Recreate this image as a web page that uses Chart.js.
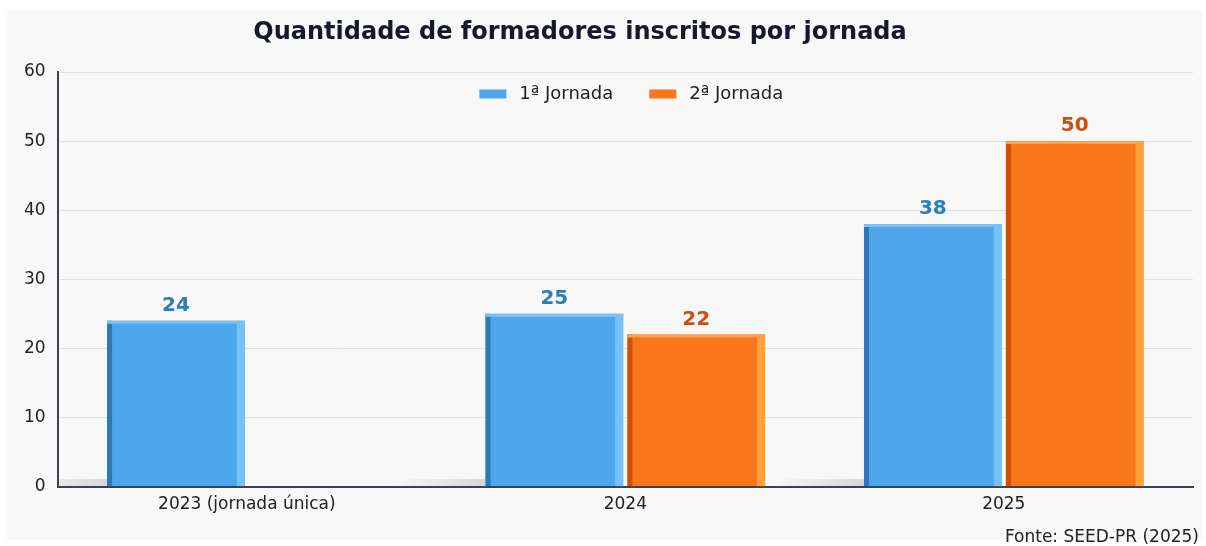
<!DOCTYPE html>
<html>
<head>
<meta charset="utf-8">
<script src="https://cdn.jsdelivr.net/npm/chart.js@4"></script>
<style>
  html, body { margin: 0; padding: 0; background: #ffffff; }
  #panel {
    position: absolute; left: 7px; top: 10px; width: 1196px; height: 530px;
    background: #f8f8f8;
  }
  #fonte {
    position: absolute; right: 4px; bottom: -6px;
    font-family: "DejaVu Sans", sans-serif; font-size: 17px; color: #222;
  }
</style>
</head>
<body>
<div id="panel">
  <canvas id="chart" width="1196" height="530"></canvas>
  <div id="fonte">Fonte: SEED-PR (2025)</div>
</div>
<script>
  "use strict";

  const chartTitle = "Quantidade de formadores inscritos por jornada";
  const categories = ["2023 (jornada única)", "2024", "2025"];
  const jornada1 = [24, 25, 38];
  const jornada2 = [null, 22, 50];
  const seriesNames = ["1ª Jornada", "2ª Jornada"];
  const yTicks = [0, 10, 20, 30, 40, 50, 60];

  const labelColors = ["#2a7fba", "#cc4f0c"];
  const edgeColors = [
    { left: "#2f78b8", right: "#74c2f8", top: "#7cc0f4" },
    { left: "#cf4f08", right: "#ffa23c", top: "#ffa050" },
  ];
  const tickFont = { family: "'DejaVu Sans', sans-serif", size: 17 };

  // bevelled edges, a soft floor shadow and the value above each bar
  const barDecor = {
    id: "barDecor",
    beforeDatasetsDraw(chart) {
      const ctx = chart.ctx;
      const area = chart.chartArea;
      ctx.save();
      ctx.beginPath();
      ctx.rect(area.left + 1, area.top, area.right - area.left, area.bottom - area.top);
      ctx.clip();
      chart.getDatasetMeta(0).data.forEach((bar) => {
        const left = bar.x - bar.width / 2;
        const g = ctx.createLinearGradient(left - 90, 0, left, 0);
        g.addColorStop(0, "rgba(0,0,0,0)");
        g.addColorStop(1, "rgba(0,0,0,0.13)");
        ctx.fillStyle = g;
        ctx.fillRect(left - 90, bar.base - 7, 90, 7);
      });
      ctx.restore();
    },
    afterDatasetsDraw(chart) {
      const ctx = chart.ctx;
      ctx.save();
      chart.data.datasets.forEach((ds, di) => {
        const meta = chart.getDatasetMeta(di);
        meta.data.forEach((bar, i) => {
          const v = ds.data[i];
          if (v === null || v === undefined) return;
          const left = bar.x - bar.width / 2;
          const right = bar.x + bar.width / 2;
          const h = bar.base - bar.y;
          ctx.fillStyle = edgeColors[di].left;
          ctx.fillRect(left, bar.y, 5, h);
          ctx.fillStyle = edgeColors[di].right;
          ctx.fillRect(right - 8, bar.y, 8, h);
          ctx.fillStyle = edgeColors[di].top;
          ctx.fillRect(left, bar.y, bar.width, 3);

          ctx.fillStyle = labelColors[di];
          ctx.font = "bold 20px 'DejaVu Sans', sans-serif";
          ctx.textAlign = "center";
          ctx.textBaseline = "alphabetic";
          ctx.fillText(String(v), bar.x, bar.y - 10);
        });
      });
      ctx.restore();
    },
  };

  // title sits a little left of centre, legend runs across the top of the plot
  const titleAndLegend = {
    id: "titleAndLegend",
    afterDraw(chart) {
      const ctx = chart.ctx;
      const area = chart.chartArea;
      ctx.save();
      ctx.fillStyle = "#15192a";
      ctx.font = "bold 24px 'DejaVu Sans', sans-serif";
      ctx.textAlign = "center";
      ctx.textBaseline = "middle";
      ctx.fillText(chartTitle, 573, 23);

      const items = Chart.defaults.plugins.legend.labels.generateLabels(chart);
      const boxW = 27, boxH = 9, gap = 13, spacing = 36;
      ctx.font = "18px 'DejaVu Sans', sans-serif";
      const widths = items.map((it) => boxW + gap + ctx.measureText(it.text).width);
      const total = widths.reduce((a, b) => a + b, 0) + spacing * (items.length - 1);
      let x = (area.left + area.right) / 2 - total / 2 + 6;
      const y = area.top + 22;
      items.forEach((it, i) => {
        ctx.fillStyle = it.fillStyle;
        ctx.fillRect(x, y - boxH / 2, boxW, boxH);
        ctx.fillStyle = "#222";
        ctx.textAlign = "left";
        ctx.fillText(it.text, x + boxW + gap, y);
        x += widths[i] + spacing;
      });
      ctx.restore();
    },
  };

  new Chart(document.getElementById("chart").getContext("2d"), {
    type: "bar",
    data: {
      labels: categories,
      datasets: [
        {
          label: seriesNames[0],
          data: jornada1,
          backgroundColor: "#4ea6ec",
          borderWidth: 0,
        },
        {
          label: seriesNames[1],
          data: jornada2,
          backgroundColor: "#f9761a",
          borderWidth: 0,
        },
      ],
    },
    options: {
      responsive: false,
      animation: false,
      categoryPercentage: 0.75,
      barPercentage: 0.97,
      layout: { padding: { left: 5, right: 10, top: 62, bottom: 17 } },
      plugins: {
        legend: { display: false },
        tooltip: { enabled: false },
      },
      scales: {
        x: {
          grid: { display: false, drawTicks: false },
          border: { color: "#3a4250", width: 2 },
          ticks: { color: "#222", padding: 8, font: tickFont },
        },
        y: {
          min: 0,
          max: 60,
          afterBuildTicks(axis) {
            axis.ticks = yTicks.map((v) => ({ value: v }));
          },
          grid: { color: "#e2e2e2", drawTicks: false },
          border: { color: "#3a4250", width: 2 },
          ticks: { color: "#222", padding: 12, font: tickFont },
        },
      },
    },
    plugins: [barDecor, titleAndLegend],
  });
</script>
</body>
</html>
